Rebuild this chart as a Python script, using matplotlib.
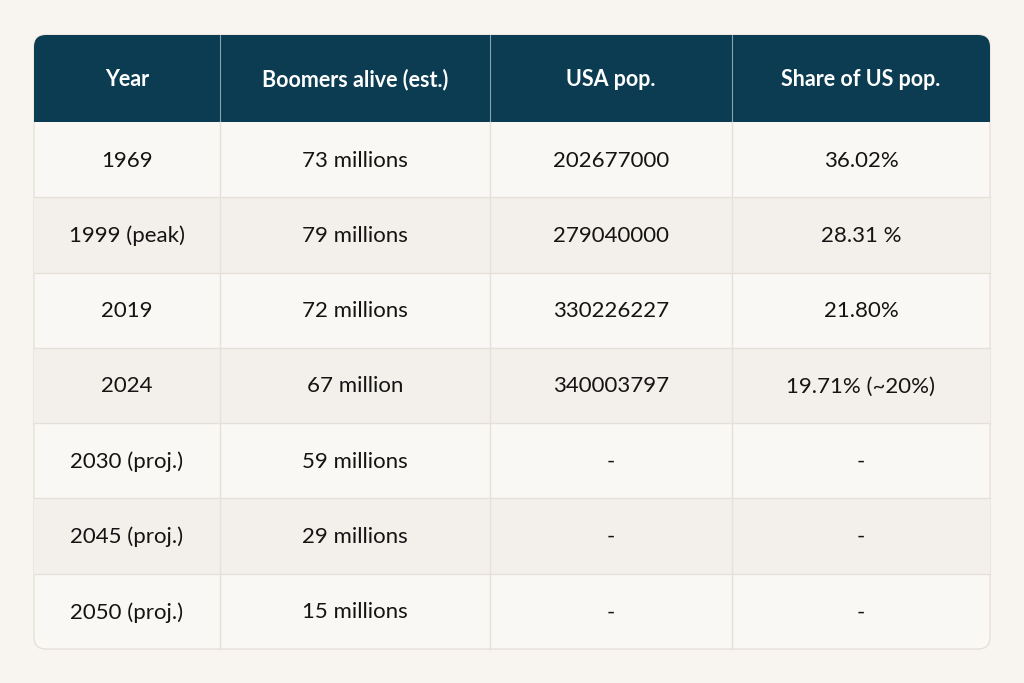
import matplotlib.pyplot as plt
from matplotlib.patches import FancyBboxPatch, Rectangle

years = ["1969", "1999 (peak)", "2019", "2024", "2030 (proj.)", "2045 (proj.)", "2050 (proj.)"]
boomers = ["73 millions", "79 millions", "72 millions", "67 million",
           "59 millions", "29 millions", "15 millions"]
usa_pop = ["202677000", "279040000", "330226227", "340003797", "-", "-", "-"]
share = ["36.02%", "28.31 %", "21.80%", "19.71% (~20%)", "-", "-", "-"]
headers = ["Year", "Boomers alive (est.)", "USA pop.", "Share of US pop."]

plt.rcParams['font.family'] = ['Lato', 'DejaVu Sans']

bg = "#f8f5f0"
head_col = "#0b3c52"
row_a = "#faf8f4"
row_b = "#f3efea"
line_col = "#e6e0da"

fig = plt.figure(figsize=(10.24, 6.83), dpi=100)
fig.patch.set_facecolor(bg)
ax = fig.add_axes([0, 0, 1, 1])
ax.set_xlim(0, 1024)
ax.set_ylim(683, 0)
ax.axis('off')

col_x = [34, 220, 490, 732, 990]
top, head_bot, bottom = 35, 122, 649
n = len(years)
row_h = (bottom - head_bot) / n

outer = FancyBboxPatch((col_x[0], top), col_x[-1] - col_x[0], bottom - top,
                       boxstyle="round,pad=0,rounding_size=12",
                       facecolor=row_a, edgecolor=line_col, linewidth=1, zorder=1)
ax.add_patch(outer)

hdr = Rectangle((col_x[0], top), col_x[-1] - col_x[0], head_bot - top,
                facecolor=head_col, edgecolor='none', zorder=2)
ax.add_patch(hdr)
hdr.set_clip_path(outer)

for i in range(n):
    y0 = head_bot + i * row_h
    if i % 2 == 1:
        r = Rectangle((col_x[0], y0), col_x[-1] - col_x[0], row_h,
                      facecolor=row_b, edgecolor='none', zorder=2)
        ax.add_patch(r)
        r.set_clip_path(outer)
    if i > 0:
        ax.plot([col_x[0], col_x[-1]], [y0, y0], color=line_col, lw=1, zorder=3)

for x in col_x[1:-1]:
    ax.plot([x, x], [top, head_bot], color="#8aa2ae", lw=0.8, zorder=3)
    ax.plot([x, x], [head_bot, bottom], color=line_col, lw=1, zorder=3)

centers = [(col_x[j] + col_x[j + 1]) / 2 for j in range(4)]
for j, h in enumerate(headers):
    ax.text(centers[j], (top + head_bot) / 2 + 1, h, color="white", fontsize=15.5,
            fontweight='bold', ha='center', va='center', zorder=4)

cols = [years, boomers, usa_pop, share]
for i in range(n):
    yc = head_bot + (i + 0.5) * row_h + 1
    for j in range(4):
        ax.text(centers[j], yc, cols[j][i], color="#141414", fontsize=16,
                ha='center', va='center', zorder=4)

fig.savefig("out.png", dpi=100, facecolor=bg)
